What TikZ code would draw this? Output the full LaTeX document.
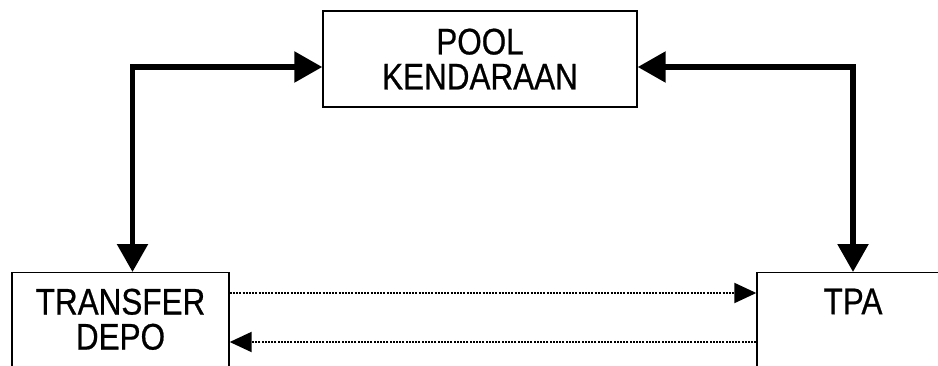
\documentclass[tikz,border=0pt]{standalone}
\usepackage{fontspec}
\setmainfont{Liberation Sans}[FakeStretch=0.85,FakeBold=0.6]
\usepackage{tikz}
\usetikzlibrary{arrows.meta}

\begin{document}
\begin{tikzpicture}[x=1pt,y=1pt,
  box/.style={draw,line width=1.4pt,align=center,inner ysep=16pt,
    font=\fontsize{37}{35}\selectfont},
  mainarrow/.style={line width=5.5pt,line join=miter,
    {Triangle[length=28pt,width=30pt]}-{Triangle[length=28pt,width=30pt]}},
  flowarrow/.style={line width=2.1pt,dash pattern=on 2pt off 1.2pt,
    -{Triangle[length=22pt,width=20pt]}}]
  \useasboundingbox (0,0) rectangle (938,365);
  \node[box,minimum width=314pt,minimum height=96pt,inner ysep=0pt] (pool) at (480,306) {POOL\\KENDARAAN};
  \node[box,anchor=north,minimum width=217pt,text depth=36pt] (transfer) at (120.5,93) {TRANSFER\\DEPO};
  \node[box,anchor=north,minimum width=192pt,text depth=70pt] (tpa) at (853,93) {TPA};
  % thick two-way links to the pool
  \draw[mainarrow] ([xshift=12pt]transfer.north) |- ([yshift=-8pt]pool.west);
  \draw[mainarrow] (tpa.north) |- ([yshift=-8pt]pool.east);
  % dotted flows between depo and tpa
  \draw[flowarrow] ([yshift=-21pt]transfer.north east) -- ([yshift=-21pt]tpa.north west);
  \draw[flowarrow] ([yshift=-70pt]tpa.north west) -- ([yshift=-70pt]transfer.north east);
\end{tikzpicture}
\end{document}
